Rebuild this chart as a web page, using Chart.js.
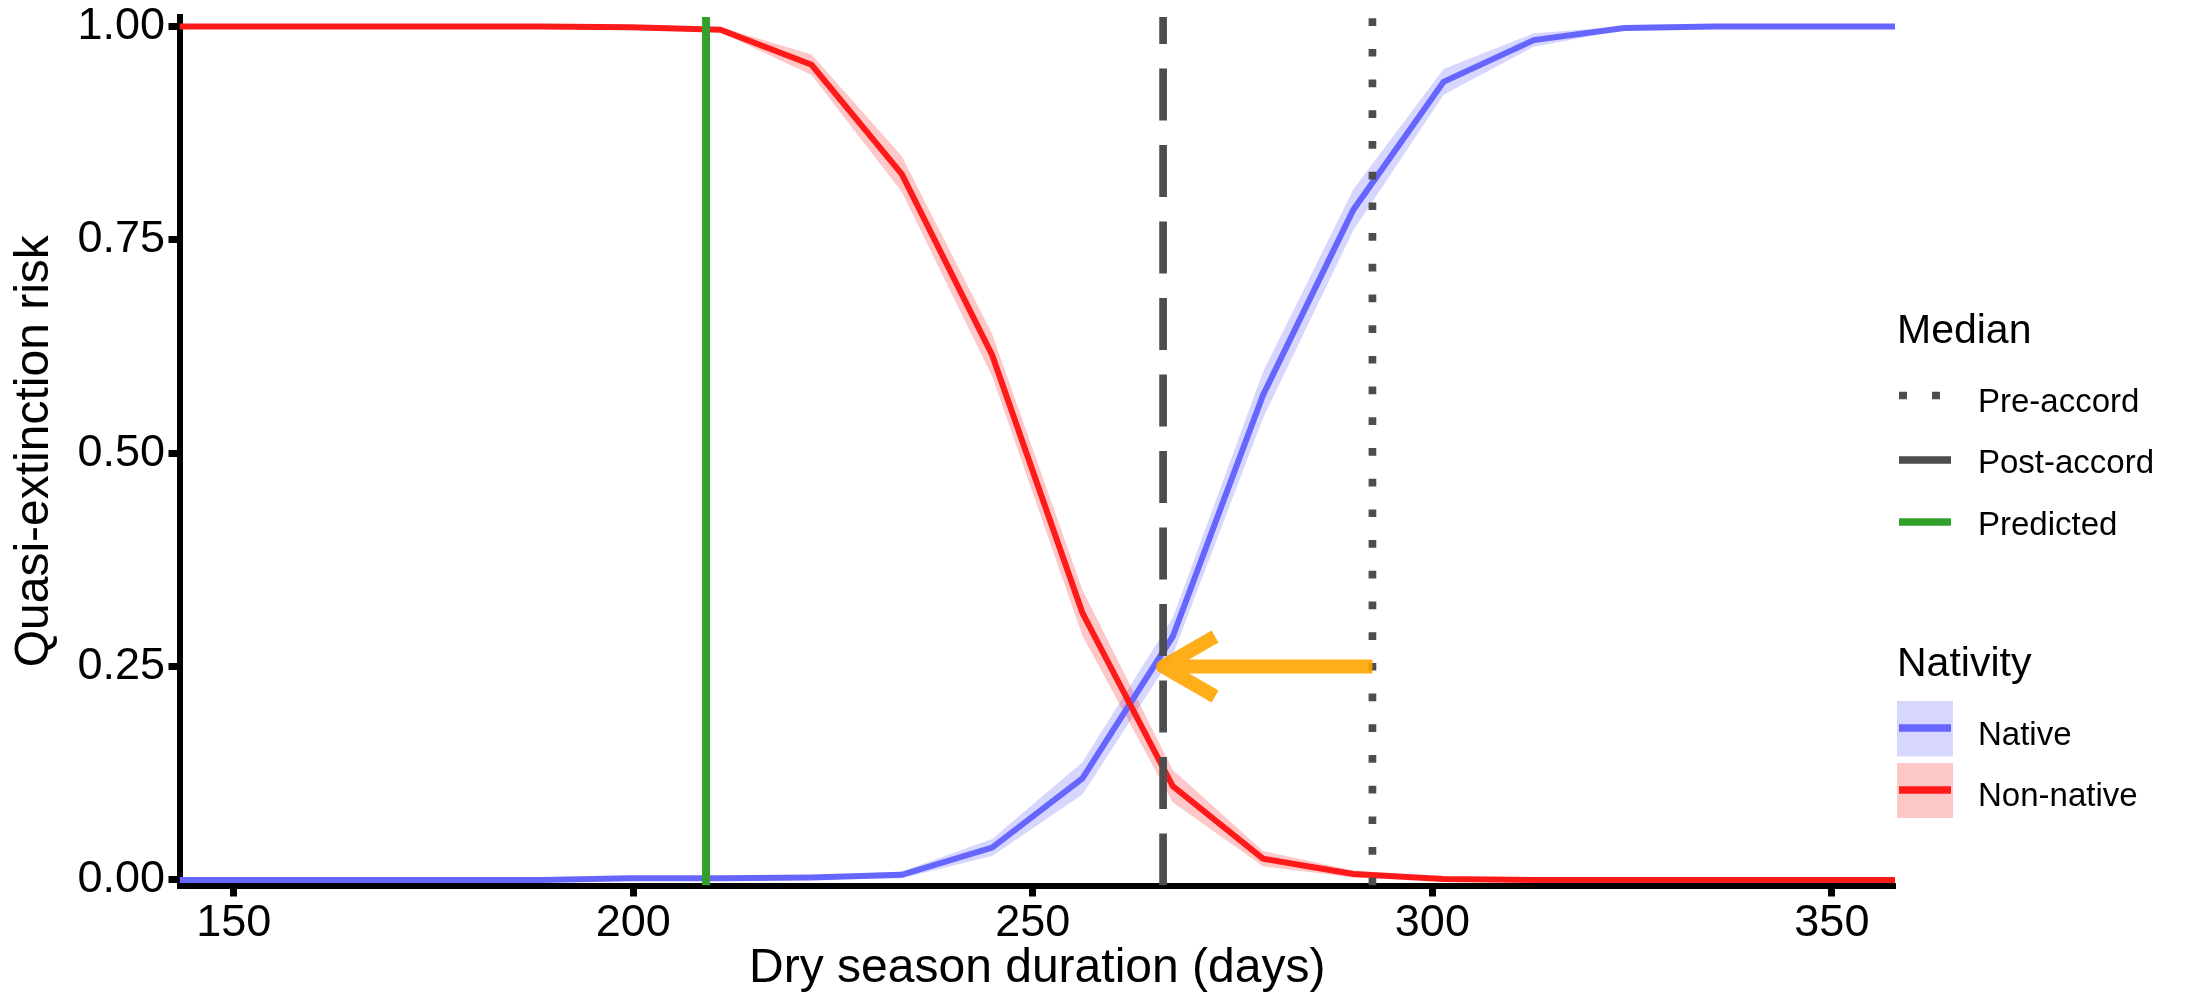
<!DOCTYPE html>
<html>
<head>
<meta charset="utf-8">
<script src="https://cdn.jsdelivr.net/npm/chart.js@4.4.1/dist/chart.umd.min.js"></script>
<style>html,body{margin:0;padding:0;background:#fff;overflow:hidden}</style>
</head>
<body>
<canvas id="chart" width="2190" height="1002"></canvas>
<script>
// dry season duration (days) where the model was evaluated
const days=[143.2,154.5,165.8,177.1,188.4,199.7,210.9,222.3,233.6,244.9,256.2,267.5,278.8,290.1,301.4,312.7,324.0,335.3,346.6,357.9];
// quasi-extinction risk, median and band
const nativeRisk=[0,0,0,0,0,0.002,0.002,0.003,0.006,0.038,0.119,0.285,0.568,0.785,0.935,0.984,0.998,1,1,1];
const nativeLow=[0,0,0,0,0,0.001,0.001,0.001,0.002,0.028,0.100,0.263,0.541,0.761,0.920,0.976,0.996,1,1,1];
const nativeHigh=[0,0,0,0,0.001,0.003,0.003,0.005,0.010,0.048,0.138,0.307,0.595,0.809,0.950,0.992,1,1,1,1];
const nonNativeRisk=[1,1,1,1,1,0.999,0.996,0.955,0.827,0.615,0.313,0.110,0.025,0.007,0.001,0,0,0,0,0];
const nonNativeLow=[1,1,1,1,0.999,0.997,0.993,0.943,0.806,0.590,0.286,0.091,0.016,0.003,0,0,0,0,0,0];
const nonNativeHigh=[1,1,1,1,1,1,0.999,0.967,0.848,0.640,0.340,0.129,0.034,0.011,0.003,0.001,0,0,0,0];
const xTicks=[150,200,250,300,350];
const yTicks=[0,0.25,0.5,0.75,1];
// median dry season lengths
const preAccord=292.5, postAccord=266.3, predicted=209.1;
const arrowLevel=0.25;

const X_MIN=143.2, X_MAX=357.9, Y_MIN=-0.0065, Y_MAX=1.011;
const BLUE='#6666FF', RED='#FF1A1A', GREY='#4D4D4D', GREEN='#33A02C';
const BLUE_BAND='rgba(102,102,255,0.27)', RED_BAND='rgba(255,26,26,0.24)';
const AX_FONT="'Liberation Sans', Arial, sans-serif";

const pts=arr=>days.map((d,i)=>({x:d,y:arr[i]}));
const vline=x=>[{x:x,y:Y_MIN},{x:x,y:Y_MAX}];
const band=(data,extra)=>Object.assign({data:pts(data),borderWidth:0,borderColor:'transparent',pointRadius:0},extra);

const arrowPlugin={id:'arrow',afterDatasetsDraw(chart){
 const {ctx,scales:{x,y}}=chart;
 const x0=x.getPixelForValue(preAccord), x1=x.getPixelForValue(postAccord), yy=y.getPixelForValue(arrowLevel);
 const len=60, a=Math.PI/6;
 ctx.save();
 ctx.strokeStyle='rgba(255,165,0,0.9)';
 ctx.lineWidth=14; ctx.lineCap='butt'; ctx.lineJoin='round';
 ctx.beginPath();
 ctx.moveTo(x0,yy); ctx.lineTo(x1,yy);
 ctx.moveTo(x1+len*Math.cos(a),yy-len*Math.sin(a)); ctx.lineTo(x1,yy); ctx.lineTo(x1+len*Math.cos(a),yy+len*Math.sin(a));
 ctx.stroke();
 ctx.restore();
}};

const legendPlugin={id:'keys',afterDraw(chart){
 const c=chart.ctx;
 c.save();
 c.fillStyle='#000'; c.textAlign='left'; c.textBaseline='alphabetic';
 c.font='41px '+AX_FONT;
 c.fillText('Median',1897,343);
 c.fillText('Nativity',1897,676);
 c.font='33px '+AX_FONT;
 c.fillText('Pre-accord',1978,412);
 c.fillText('Post-accord',1978,473);
 c.fillText('Predicted',1978,534.5);
 c.fillText('Native',1978,745);
 c.fillText('Non-native',1978,806);
 const key=(y,col,w,dash)=>{c.beginPath();c.setLineDash(dash||[]);c.lineCap='butt';c.strokeStyle=col;c.lineWidth=w;c.moveTo(1899,y);c.lineTo(1951,y);c.stroke();};
 key(395.5,GREY,7.7,[8,25]);
 key(460,GREY,7.7);
 key(522,GREEN,7.7);
 c.fillStyle=BLUE_BAND; c.fillRect(1897,701,56,55.5);
 c.fillStyle=RED_BAND; c.fillRect(1897,763,56,55);
 key(728,BLUE,7.5);
 key(790,RED,7.5);
 c.restore();
}};

const ctx=document.getElementById('chart').getContext('2d');
const chart=new Chart(ctx,{
 type:'line',
 data:{datasets:[
  band(nativeLow,{label:'native low',fill:false,order:11}),
  band(nativeHigh,{label:'native band',fill:'-1',backgroundColor:BLUE_BAND,order:10}),
  band(nonNativeLow,{label:'non-native low',fill:false,order:9}),
  band(nonNativeHigh,{label:'non-native band',fill:'-1',backgroundColor:RED_BAND,order:8}),
  {label:'Native',data:pts(nativeRisk),borderColor:BLUE,borderWidth:6,pointRadius:0,fill:false,order:6},
  {label:'Non-native',data:pts(nonNativeRisk),borderColor:RED,borderWidth:6,pointRadius:0,fill:false,order:5},
  {label:'Predicted',data:vline(predicted),borderColor:GREEN,borderWidth:8,borderCapStyle:'butt',pointRadius:0,fill:false,order:3},
  {label:'Post-accord',data:vline(postAccord),borderColor:GREY,borderWidth:7.7,borderDash:[52,24.5],borderCapStyle:'butt',pointRadius:0,fill:false,order:2},
  {label:'Pre-accord',data:vline(preAccord),borderColor:GREY,borderWidth:7.7,borderDash:[7.7,23],borderCapStyle:'butt',pointRadius:0,fill:false,order:1}
 ]},
 options:{
  responsive:false,animation:false,
  layout:{padding:{left:0,right:295,top:17,bottom:0}},
  elements:{line:{tension:0},point:{radius:0}},
  plugins:{legend:{display:false},tooltip:{enabled:false}},
  scales:{
   x:{type:'linear',min:X_MIN,max:X_MAX,
    afterBuildTicks:s=>{s.ticks=xTicks.map(v=>({value:v}));},
    afterFit:s=>{s.height=116.5;s.paddingLeft=0;s.paddingRight=0;},
    grid:{drawOnChartArea:false,tickLength:11,tickWidth:7,tickColor:'#000'},
    border:{display:true,color:'#000',width:6},
    ticks:{color:'#000',padding:0,maxRotation:0,autoSkip:false,font:{family:AX_FONT,size:45}},
    title:{display:true,text:'Dry season duration (days)',color:'#000',font:{family:AX_FONT,size:48},padding:{top:0,bottom:4}}
   },
   y:{type:'linear',min:Y_MIN,max:Y_MAX,
    afterBuildTicks:s=>{s.ticks=yTicks.map(v=>({value:v}));},
    afterFit:s=>{s.width=179.5;s.paddingTop=0;s.paddingBottom=0;},
    grid:{drawOnChartArea:false,tickLength:11,tickWidth:7,tickColor:'#000'},
    border:{display:true,color:'#000',width:6},
    ticks:{color:'#000',padding:3.5,autoSkip:false,font:{family:AX_FONT,size:45},callback:v=>v.toFixed(2)},
    title:{display:true,text:'Quasi-extinction risk',color:'#000',font:{family:AX_FONT,size:48},padding:{top:6,bottom:0}}
   }
  }
 },
 plugins:[arrowPlugin,legendPlugin]
});
</script>
</body>
</html>
